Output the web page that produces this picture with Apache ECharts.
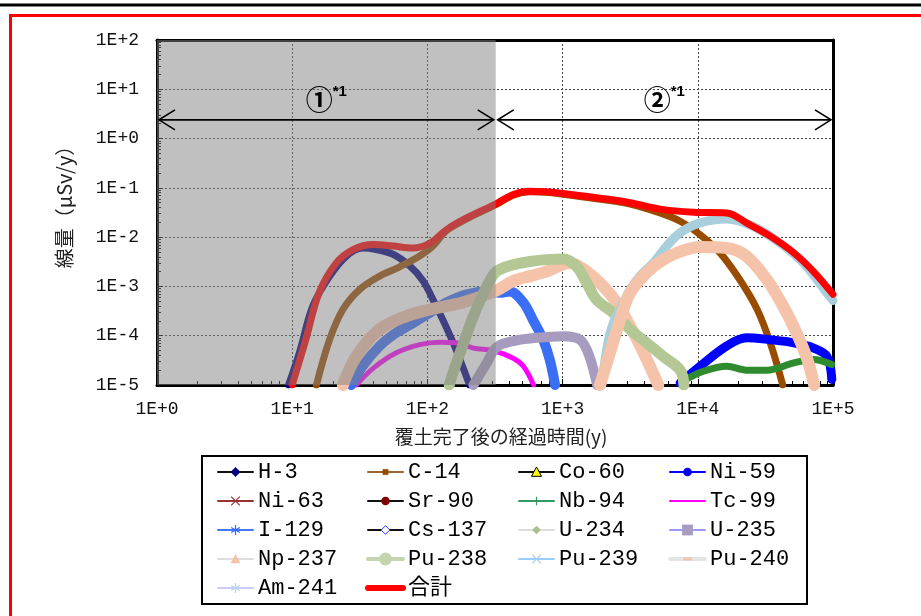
<!DOCTYPE html>
<html><head><meta charset="utf-8">
<script src="https://cdn.jsdelivr.net/npm/echarts@6/dist/echarts.min.js"></script>
<style>html,body{margin:0;padding:0;background:#fff}#c{width:921px;height:616px}</style>
</head><body><div id="c"></div>
<script>
// ---------- tick labels ----------
const xTickLabels = ['1E+0','1E+1','1E+2','1E+3','1E+4','1E+5'];
const yTickLabels = ['1E-5','1E-4','1E-3','1E-2','1E-1','1E+0','1E+1','1E+2'];
const xAxisTitle = '覆土完了後の経過時間(y)';
const yAxisTitle = '線量（μSv/y）';

// ---------- period annotations ----------
const periodLabels = ['①', '②'];
const periodStart = [1, 320];
const periodEnd = [320, 100000];
const arrowLevel = 2.4;

// ---------- series values (years, dose μSv/y) ----------
const yearsH3 = [9.4, 11.3, 14.2, 18.9, 25.1, 33.1, 41.7, 55.6, 74.1, 92.7, 110, 130, 155, 178, 205];
const doseH3  = [1e-5, 4.5e-5, 4.0e-4, 1.6e-3, 4.1e-3, 6.0e-3, 5.6e-3, 4.5e-3, 2.6e-3, 1.3e-3, 5.4e-4, 2.1e-4, 7.2e-5, 2.8e-5, 1e-5];

const yearsC14 = [15.1, 18.9, 23.7, 31.6, 44.4, 62.4, 87.1, 110, 138, 195, 324, 431, 573, 759, 1010, 1780, 3160, 5250, 7410, 10400, 14600, 20400, 27500, 34300, 42500];
const doseC14  = [1e-5, 8.3e-5, 3.4e-4, 8.7e-4, 1.62e-3, 2.5e-3, 4.1e-3, 6.6e-3, 1.35e-2, 2.34e-2, 4.6e-2, 7.1e-2, 8.3e-2, 8.1e-2, 7.4e-2, 6.0e-2, 4.7e-2, 3.1e-2, 2.1e-2, 1.12e-2, 4.8e-3, 1.38e-3, 3.4e-4, 7.2e-5, 1e-5];

const yearsCo60 = [];
const doseCo60  = [];

const yearsNi59 = [7400, 10400, 16400, 22900, 34300, 51300, 71800, 90200, 98000];
const doseNi59  = [1.1e-5, 2.4e-5, 6.2e-5, 9.1e-5, 8.3e-5, 7.2e-5, 5.6e-5, 3.8e-5, 1.3e-5];

const yearsNi63 = [];
const doseNi63  = [];

const yearsSr90 = [];
const doseSr90  = [];

const yearsNb94 = [7760, 11000, 16400, 22900, 32400, 51300, 71800, 97700];
const doseNb94  = [1.2e-5, 1.9e-5, 2.4e-5, 2.0e-5, 2.0e-5, 2.8e-5, 3.3e-5, 2.6e-5];

const yearsTc99 = [29.8, 39.8, 58.9, 87.7, 123, 164, 219, 306, 431, 513, 610];
const doseTc99  = [1e-5, 2.2e-5, 4.5e-5, 6.6e-5, 7.4e-5, 7.2e-5, 5.6e-5, 5.0e-5, 3.5e-5, 2.4e-5, 1e-5];

const yearsI129 = [27.4, 33.1, 44.4, 58.9, 78.2, 104, 138, 195, 275, 343, 407, 513, 603, 718, 805, 880];
const doseI129  = [1e-5, 2.4e-5, 6.2e-5, 1.15e-4, 1.8e-4, 2.9e-4, 4.7e-4, 6.9e-4, 7.9e-4, 7.4e-4, 7.9e-4, 4.7e-4, 2.1e-4, 8.3e-5, 3.2e-5, 1e-5];

const yearsCs137 = [];
const doseCs137  = [];

const yearsU234 = [];
const doseU234  = [];

const yearsU235 = [219, 275, 324, 431, 646, 1010, 1350, 1580, 1800];
const doseU235  = [1e-5, 2.8e-5, 5.8e-5, 7.8e-5, 9.1e-5, 9.8e-5, 8.3e-5, 3.8e-5, 1e-5];

const yearsNp237 = [23.7, 29.8, 44.4, 70, 104, 182, 324, 431, 575, 759, 1130, 1510, 2000, 2510, 3160, 3980, 5100];
const doseNp237  = [1e-5, 3.8e-5, 1.35e-4, 2.5e-4, 3.4e-4, 4.7e-4, 8.3e-4, 1.29e-3, 1.62e-3, 2.0e-3, 3.0e-3, 2.0e-3, 1.0e-3, 4.7e-4, 1.55e-4, 4.5e-5, 1e-5];

const yearsPu238 = [145, 155, 182, 219, 275, 324, 431, 575, 759, 1010, 1260, 1510, 1780, 2370, 3160, 4170, 5560, 7410, 7900];
const dosePu238  = [1e-5, 1.8e-5, 6.2e-5, 2.5e-4, 1.0e-3, 2.0e-3, 2.75e-3, 3.2e-3, 3.5e-3, 3.6e-3, 2.6e-3, 1.17e-3, 5.4e-4, 2.9e-4, 1.35e-4, 7.2e-5, 3.8e-5, 2.0e-5, 1e-5];

const yearsPu239 = [1950, 2140, 2370, 2820, 3160, 3720, 4680, 5890, 7410, 10400, 16400, 25700, 40700, 60300, 90200, 100000];
const dosePu239  = [1e-5, 6.2e-5, 1.8e-4, 4.7e-4, 8.7e-4, 1.62e-3, 3.0e-3, 6.6e-3, 1.23e-2, 1.95e-2, 2.34e-2, 1.66e-2, 7.6e-3, 3.0e-3, 7.4e-4, 5.2e-4];

const yearsPu240 = [1890, 2240, 2660, 3160, 4170, 5560, 7410, 10400, 16400, 22900, 32400, 42700, 53700, 64600, 72500];
const dosePu240  = [1e-5, 4.5e-5, 2.1e-4, 7.4e-4, 1.9e-3, 3.5e-3, 5.1e-3, 6.3e-3, 6.0e-3, 4.1e-3, 1.38e-3, 4.0e-4, 1.15e-4, 3.3e-5, 1e-5];

const yearsAm241 = [];
const doseAm241  = [];

const yearsTotal = [10, 12.6, 15.8, 21.2, 28.2, 39.8, 55.6, 77.6, 105, 138, 195, 324, 431, 573, 759, 1010, 1780, 3160, 5250, 9330, 16400, 22900, 34300, 51300, 71800, 100000];
const doseTotal  = [1e-5, 8.3e-5, 7.4e-4, 3.0e-3, 5.6e-3, 7.1e-3, 6.6e-3, 6.0e-3, 7.6e-3, 1.41e-2, 2.45e-2, 4.8e-2, 7.3e-2, 8.5e-2, 8.3e-2, 7.7e-2, 6.3e-2, 5.0e-2, 3.7e-2, 3.2e-2, 3.1e-2, 1.95e-2, 1.05e-2, 4.8e-3, 2.0e-3, 6.9e-4];

// ---------- styles ----------
const P = s => 'path://M0 0M20 20' + s;
const styles = [
  {name:'H-3',    x:yearsH3,   y:doseH3,   color:'#000080', width:7,  sym:P('M10 3L17 10L10 17L3 10Z'), legLine:'#111', legFill:'#000080', legBorder:'#000080', legBW:0},
  {name:'C-14',   x:yearsC14,  y:doseC14,  color:'#994c00', width:7,  sym:P('M6 6H14V14H6Z'), legLine:'#996633', legFill:'#994c00', legBorder:'#994c00', legBW:0},
  {name:'Co-60',  x:yearsCo60, y:doseCo60, color:'#ffff00', width:3,  sym:P('M10 3L17 16H3Z'), legLine:'#111', legFill:'#ffff00', legBorder:'#000', legBW:1},
  {name:'Ni-59',  x:yearsNi59, y:doseNi59, color:'#0000ff', width:9,  sym:P('M4 10A6 6 0 1 0 16 10A6 6 0 1 0 4 10Z'), legLine:'#0000ff', legFill:'#0000ff', legBorder:'#0000ff', legBW:0},
  {name:'Ni-63',  x:yearsNi63, y:doseNi63, color:'#993333', width:3,  sym:P('M4 4L16 16M16 4L4 16'), legLine:'#993333', legFill:'transparent', legBorder:'#993333', legBW:1.2},
  {name:'Sr-90',  x:yearsSr90, y:doseSr90, color:'#800000', width:3,  sym:P('M4 10A6 6 0 1 0 16 10A6 6 0 1 0 4 10Z'), legLine:'#111', legFill:'#800000', legBorder:'#800000', legBW:0},
  {name:'Nb-94',  x:yearsNb94, y:doseNb94, color:'#2e8b2e', width:7,  sym:P('M10 4V16M4 10H16'), legLine:'#339966', legFill:'transparent', legBorder:'#339966', legBW:1.2},
  {name:'Tc-99',  x:yearsTc99, y:doseTc99, color:'#ff00ff', width:5,  sym:P('M5 9H15V11H5Z'), legLine:'#ff00ff', legFill:'#ff00ff', legBorder:'#ff00ff', legBW:0},
  {name:'I-129',  x:yearsI129, y:doseI129, color:'#3a6ef5', width:10, sym:P('M10 3V17M4 6.5L16 13.5M16 6.5L4 13.5'), legLine:'#4477ff', legFill:'transparent', legBorder:'#3366ff', legBW:1.2},
  {name:'Cs-137', x:yearsCs137,y:doseCs137,color:'#3333ff', width:3,  sym:P('M10 4L16 10L10 16L4 10Z'), legLine:'#111', legFill:'#ffffff', legBorder:'#3333ff', legBW:1},
  {name:'U-234',  x:yearsU234, y:doseU234, color:'#a9c08e', width:3,  sym:P('M10 4L16 10L10 16L4 10Z'), legLine:'#dddddd', legFill:'#a9c08e', legBorder:'#a9c08e', legBW:0},
  {name:'U-235',  x:yearsU235, y:doseU235, color:'#a79bbf', width:10, sym:P('M2.5 2.5H17.5V17.5H2.5Z'), legLine:'#9999ff', legFill:'#a79bbf', legBorder:'#a79bbf', legBW:0},
  {name:'Np-237', x:yearsNp237,y:doseNp237,color:'#f5c3aa', width:12, sym:P('M10 3L17 16H3Z'), legLine:'#dddddd', legFill:'#f5c3aa', legBorder:'#f5c3aa', legBW:0},
  {name:'Pu-238', x:yearsPu238,y:dosePu238,color:'#b4c896', width:11, sym:P('M1 10A9 9 0 1 0 19 10A9 9 0 1 0 1 10Z'), legLine:'#c4d4ae', legFill:'#c4d4ae', legBorder:'#c4d4ae', legBW:0, legW:4},
  {name:'Pu-239', x:yearsPu239,y:dosePu239,color:'#a9cfdc', width:9,  sym:P('M4 4L16 16M16 4L4 16'), legLine:'#99ccff', legFill:'transparent', legBorder:'#a9cfdc', legBW:1.2},
  {name:'Pu-240', x:yearsPu240,y:dosePu240,color:'#f5c3aa', width:12, sym:P('M4 8H16V12H4Z'), legLine:'#e4e4e4', legFill:'#f5c3aa', legBorder:'#f5c3aa', legBW:0, legW:4},
  {name:'Am-241', x:yearsAm241,y:doseAm241,color:'#b0d8e8', width:3,  sym:P('M10 3V17M4 6.5L16 13.5M16 6.5L4 13.5'), legLine:'#ccccff', legFill:'transparent', legBorder:'#b0d8e8', legBW:1.2},
  {name:'合計',   x:yearsTotal,y:doseTotal,color:'#ff0000', width:7,  sym:'path://M0 0M20 20', legLine:'#ff0000', legFill:'transparent', legBorder:'transparent', legBW:0, legW:6}
];

const legendColumns = [
  ['H-3','Ni-63','I-129','Np-237','Am-241'],
  ['C-14','Sr-90','Cs-137','Pu-238','合計'],
  ['Co-60','Nb-94','U-234','Pu-239'],
  ['Ni-59','Tc-99','U-235','Pu-240']
];
const legendLefts = [217, 365, 518, 668];

const zip = (a, b) => a.map((v, i) => [v, b[i]]);
const styleByName = {};
styles.forEach(s => styleByName[s.name] = s);

const series = styles.map(s => ({
  name: s.name, type: 'line', data: zip(s.x, s.y), smooth: 0.35,
  symbol: s.sym, showSymbol: false, clip: true,
  lineStyle: {color: s.color, width: s.width, cap: 'round', join: 'round'},
  itemStyle: {color: s.color},
  emphasis: {disabled: true}, z: 2
}));

// gray shading of period ①
series.push({
  name: '_shade', type: 'line', data: [], silent: true,
  markArea: {silent: true, z: 10, itemStyle: {color: 'rgba(130,130,130,0.5)'},
    data: [[{xAxis: periodStart[0]}, {xAxis: periodEnd[0]}]]}
});

// arrows and labels
series.push({
  name: '_arrows', type: 'custom', z: 20, silent: true,
  data: periodStart.map((s, i) => [s, periodEnd[i], arrowLevel]),
  encode: {x: [0, 1], y: 2},
  renderItem: function (params, api) {
    const p1 = api.coord([api.value(0), api.value(2)]);
    const p2 = api.coord([api.value(1), api.value(2)]);
    const y = p1[1];
    const lw = 1.6;
    return {
      type: 'group', children: [
        {type: 'line', shape: {x1: p1[0] + 2, y1: y, x2: p2[0] - 2, y2: y}, style: {stroke: '#000', lineWidth: lw}},
        {type: 'polyline', shape: {points: [[p1[0] + 18, y - 10], [p1[0] + 2, y], [p1[0] + 18, y + 10]]}, style: {stroke: '#000', fill: null, lineWidth: lw}},
        {type: 'polyline', shape: {points: [[p2[0] - 18, y - 10], [p2[0] - 2, y], [p2[0] - 18, y + 10]]}, style: {stroke: '#000', fill: null, lineWidth: lw}},
        {type: 'text', x: (p1[0] + p2[0]) / 2, y: y - 5, style: {
          text: '{a|' + periodLabels[params.dataIndex] + '}{b|*1}',
          align: 'center', verticalAlign: 'bottom',
          rich: {
            a: {fontFamily: 'Noto Sans CJK JP', fontSize: 27, fontWeight: 'bold', fill: '#000', lineHeight: 30},
            b: {fontFamily: 'Liberation Sans', fontSize: 15, fontWeight: 'bold', fill: '#000', verticalAlign: 'top', lineHeight: 30, padding: [0, 0, 14, 0]}
          }
        }}
      ]
    };
  }
});

const axisFont = 'Liberation Mono';
const legends = legendColumns.map((col, ci) => ({
  orient: 'vertical', left: legendLefts[ci], top: 461, padding: 0,
  itemWidth: 35, itemHeight: 18, itemGap: 7, selectedMode: false,
  textStyle: {fontFamily: 'Liberation Mono, Noto Sans CJK JP', fontSize: 22, color: '#000', lineHeight: 22},
  data: col.map(n => {
    const s = styleByName[n];
    return {name: n,
      itemStyle: {color: s.legFill, borderColor: s.legBorder, borderWidth: s.legBW, opacity: 1},
      lineStyle: {color: s.legLine, width: s.legW || 2, opacity: 1}};
  })
}));

const chart = echarts.init(document.getElementById('c'), null, {renderer: 'canvas'});
chart.setOption({
  animation: false,
  backgroundColor: '#fff',
  grid: {left: 157, right: 88, top: 40, bottom: 231, containLabel: false},
  graphic: [
    {type: 'line', shape: {x1: 0, y1: 5, x2: 921, y2: 5}, style: {stroke: '#000', lineWidth: 3}, z: 100},
    {type: 'rect', shape: {x: 10.5, y: 15.5, width: 1000, height: 700}, style: {stroke: '#ff0000', fill: null, lineWidth: 3}, z: 100},
    {type: 'rect', shape: {x: 202, y: 456, width: 605, height: 148}, style: {stroke: '#000', fill: null, lineWidth: 2}, z: 100},
    {type: 'text', x: 64, y: 202, rotation: Math.PI / 2, z: 100,
      style: {text: yAxisTitle, fontFamily: 'Noto Sans CJK JP', fontSize: 20, fill: '#222', align: 'center', verticalAlign: 'middle'}}
  ],
  legend: legends,
  xAxis: [{
    type: 'log', logBase: 10, min: 1, max: 100000, splitNumber: 5,
    name: xAxisTitle, nameLocation: 'middle', nameGap: 42,
    nameTextStyle: {fontFamily: 'Noto Sans CJK JP', fontSize: 19, color: '#222', padding: [0, 0, 0, 12]},
    axisLine: {show: true, onZero: false, lineStyle: {color: '#000', width: 3}},
    axisTick: {show: true, inside: true, length: 6, lineStyle: {color: '#000', width: 1}},
    minorTick: {show: true, splitNumber: 9, length: 4, lineStyle: {color: '#000', width: 1}},
    axisLabel: {margin: 15, fontFamily: axisFont, fontSize: 18, color: '#111',
      formatter: v => xTickLabels[Math.round(Math.log10(v))]},
    splitLine: {show: true, lineStyle: {color: '#444', width: 1, type: [2, 2]}}
  }, {
    type: 'log', logBase: 10, min: 1, max: 100000, position: 'top', splitNumber: 5,
    axisLine: {show: true, onZero: false, lineStyle: {color: '#000', width: 3}},
    axisTick: {show: false}, axisLabel: {show: false}, splitLine: {show: false}
  }],
  yAxis: [{
    type: 'log', logBase: 10, min: 1e-5, max: 100, splitNumber: 7,
    axisLine: {show: true, onZero: false, lineStyle: {color: '#000', width: 3}},
    axisTick: {show: true, inside: true, length: 6, lineStyle: {color: '#000', width: 1}},
    minorTick: {show: true, splitNumber: 9, length: 4, lineStyle: {color: '#000', width: 1}},
    axisLabel: {margin: 18, fontFamily: axisFont, fontSize: 18, color: '#111',
      formatter: v => yTickLabels[Math.round(Math.log10(v)) + 5]},
    splitLine: {show: true, lineStyle: {color: '#444', width: 1, type: [2, 2]}}
  }, {
    type: 'log', logBase: 10, min: 1e-5, max: 100, position: 'right', splitNumber: 7,
    axisLine: {show: true, onZero: false, lineStyle: {color: '#000', width: 3}},
    axisTick: {show: false}, axisLabel: {show: false}, splitLine: {show: false}
  }],
  series: series
});
</script>
</body></html>
